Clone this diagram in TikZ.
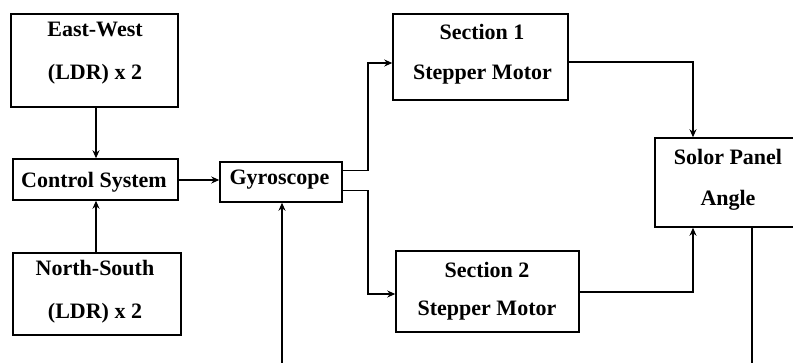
\documentclass[tikz,border=0pt]{standalone}
\usepackage{fontspec}
\setmainfont{Liberation Serif}
\usetikzlibrary{arrows.meta}
\begin{document}
\begin{tikzpicture}[x=1pt,y=-1pt,
  box/.style={draw, line width=1.5pt, inner sep=0pt, rectangle},
  txt/.style={anchor=base, inner sep=0pt, font=\fontsize{22}{26}\selectfont\bfseries},
  conn/.style={line width=1.5pt, -{Stealth[length=8pt,width=7pt]}},
  plain/.style={line width=1.5pt}]
\useasboundingbox (0,0) rectangle (793,362);
% boxes
\node[box, minimum width=167pt, minimum height=93pt] (ew) at (94.5,60.5) {};
\node[box, minimum width=165pt, minimum height=41pt] (cs) at (95.5,179.5) {};
\node[box, minimum width=168pt, minimum height=82pt] (ns) at (97,294) {};
\node[box, minimum width=122pt, minimum height=40pt] (gy) at (281,182) {};
\node[box, minimum width=175pt, minimum height=86pt] (s1) at (480.5,57) {};
\node[box, minimum width=183pt, minimum height=81pt] (s2) at (487.5,291.5) {};
\node[box, minimum width=150pt, minimum height=89pt] (sp) at (730,182.5) {};
% texts
\node[txt] (ew1) at (95,36) {East-West};
\node[txt] (ew2) at (95,79) {(LDR) x 2};
\node[txt] (cst) at (94,187) {Control System};
\node[txt] (ns1) at (95,275) {North-South};
\node[txt] (ns2) at (95,318) {(LDR) x 2};
\node[txt] (gyt) at (279.5,184) {Gyroscope};
\node[txt] (s1a) at (482,39) {Section 1};
\node[txt] (s1b) at (482.5,79) {Stepper Motor};
\node[txt] (s2a) at (487,277) {Section 2};
\node[txt] (s2b) at (487,315) {Stepper Motor};
\node[txt] (spa) at (728,164) {Solor Panel};
\node[txt] (spb) at (728,205) {Angle};
% free ends
\coordinate (gin) at (282,365);
\coordinate (sout) at (752,365);
% connectors
\draw[conn] (ew.south -| 96,0) -- (cs.north -| 96,0);
\draw[conn] (ns.north -| 96,0) -- (cs.south -| 96,0);
\draw[conn] (cs.east |- 0,180) -- (gy.west |- 0,180);
\draw[conn] (gin) -- (gy.south -| gin);
\draw[conn] (gy.east |- 0,170.5) -- (368,170.5) |- (s1.west |- 0,63);
\draw[conn] (gy.east |- 0,190.5) -- (368,190.5) |- (s2.west |- 0,294);
\draw[conn] (s1.east |- 0,62) -| (sp.north -| 693,0);
\draw[conn] (s2.east |- 0,292) -| (sp.south -| 693,0);
\draw[plain] (sp.south -| sout) -- (sout);
\end{tikzpicture}
\end{document}
